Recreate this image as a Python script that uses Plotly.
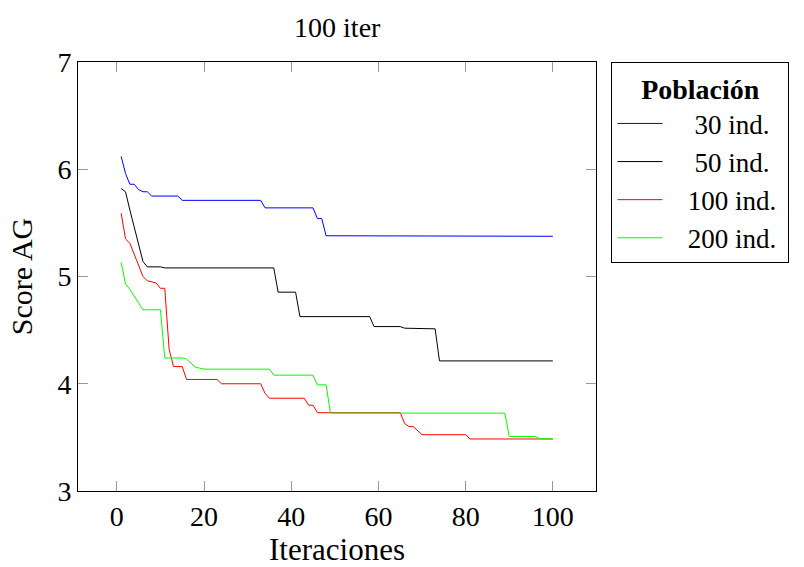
import plotly.graph_objects as go

iters = list(range(1, 101))

pop30 = ([6.12, 5.96, 5.86, 5.86, 5.81, 5.79, 5.79] + [5.75] * 7 + [5.71] * 19
         + [5.64] * 12 + [5.54] * 2 + [5.38] * 15 + [5.375] * 38)
pop50 = ([5.82, 5.79, 5.62, 5.46, 5.30, 5.14, 5.09, 5.09, 5.09, 5.09] + [5.08] * 26
         + [4.854] * 5 + [4.626] * 17 + [4.533] * 7 + [4.518, 4.518, 4.516, 4.515, 4.514, 4.513, 4.512, 4.512]
         + [4.213] * 27)
pop100 = ([5.59, 5.35, 5.31, 5.21, 5.11, 5.00, 4.96, 4.95, 4.94, 4.89, 4.89, 4.32, 4.16, 4.16, 4.16]
          + [4.04] * 8 + [4.00] * 10 + [3.91] + [3.865] * 9 + [3.80] * 2 + [3.73] * 20
          + [3.63, 3.60, 3.60, 3.56] + [3.525] * 11 + [3.485] * 20)
pop200 = ([5.13, 4.93, 4.88, 4.82, 4.76] + [4.69] * 5 + [4.24] * 5 + [4.23, 4.19, 4.155, 4.145]
          + [4.136] * 16 + [4.08] * 10 + [3.99] * 3 + [3.726] * 41 + [3.508] * 7 + [3.487] * 4)

series = [
    ("30 ind.", pop30, "#0000ff"),
    ("50 ind.", pop50, "#000000"),
    ("100 ind.", pop100, "#ff0000"),
    ("200 ind.", pop200, "#00ff00"),
]

FONT = "Liberation Serif"
NB = "\u00a0"

fig = go.Figure()
for name, vals, color in series:
    lead = 4 if len(name) < 8 else 3
    trail = 2 if len(name) < 8 else 1
    fig.add_trace(go.Scatter(x=iters, y=vals, mode="lines", name=NB * lead + name + NB * trail,
                             line=dict(color=color, width=1)))

axis_common = dict(showline=True, linecolor="black", linewidth=1, mirror="ticks",
                   ticks="inside", ticklen=10, tickcolor="#999999", showgrid=False,
                   zeroline=False, automargin=False,
                   tickfont=dict(family=FONT, size=28, color="black"))

fig.update_layout(
    width=804, height=567,
    margin=dict(l=78, r=207.5, t=62, b=75.7),
    paper_bgcolor="white", plot_bgcolor="white",
    title=dict(text="100 iter", x=(78 + 596.5) / 2 / 804, xanchor="center",
               y=1 - 27 / 567, yanchor="middle",
               font=dict(family=FONT, size=28, color="black")),
    xaxis=dict(range=[-8.9, 109.9], tickvals=[0, 20, 40, 60, 80, 100],
               title=dict(text="Iteraciones", font=dict(family=FONT, size=31, color="black")),
               **axis_common),
    yaxis=dict(range=[3, 7], tickvals=[3, 4, 5, 6, 7],
               title=dict(text="Score AG", font=dict(family=FONT, size=30, color="black")),
               **axis_common),
    legend=dict(x=(612 - 78) / 518.5, y=1, xanchor="left", yanchor="top",
                bordercolor="black", borderwidth=1, bgcolor="white",
                font=dict(family=FONT, size=27, color="black"),
                itemwidth=45,
                title=dict(text="<b>Población</b>", side="top center",
                           font=dict(family=FONT, size=28, color="black"))),
    showlegend=True,
)

fig.write_html("out.html")
